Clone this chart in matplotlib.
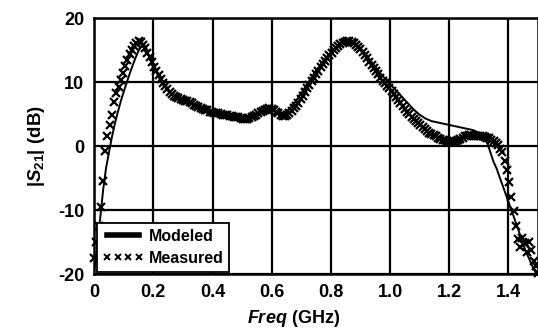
import numpy as np
import matplotlib
matplotlib.use("Agg")
import matplotlib.pyplot as plt

plt.rcParams["font.family"] = ["Liberation Sans", "DejaVu Sans"]
plt.rcParams["font.weight"] = "bold"
plt.rcParams["axes.unicode_minus"] = False
plt.rcParams["mathtext.fontset"] = "custom"
plt.rcParams["mathtext.rm"] = "Liberation Sans:bold"
plt.rcParams["mathtext.it"] = "Liberation Sans:italic:bold"

# measured |S21| (dB), VNA sweep 0..1.5 GHz, 201 points
meas_freq = np.linspace(0.0, 1.5, 201)
meas_db = [
    -17.5, -15.0, -12.5, -9.5, -5.4, -0.7, 1.6, 3.3, 4.8, 6.9,
    8.3, 9.3, 10.3, 11.4, 12.5, 13.5, 14.4, 15.0, 15.6, 16.1,
    16.4, 16.2, 15.8, 15.3, 14.6, 13.9, 13.1, 12.4, 11.7, 11.1,
    10.5, 9.9, 9.4, 8.9, 8.5, 8.2, 7.9, 7.7, 7.5, 7.3,
    7.2, 7.1, 7.0, 6.9, 6.7, 6.4, 6.2, 6.1, 6.0, 5.8,
    5.7, 5.6, 5.4, 5.3, 5.2, 5.2, 5.1, 5.0, 4.9, 4.9,
    4.8, 4.7, 4.7, 4.6, 4.5, 4.5, 4.4, 4.3, 4.3, 4.3,
    4.4, 4.5, 4.7, 4.9, 5.1, 5.3, 5.5, 5.6, 5.8, 5.9,
    5.8, 5.6, 5.4, 5.1, 4.8, 4.7, 4.7, 4.8, 5.1, 5.5,
    5.9, 6.3, 6.8, 7.3, 7.8, 8.4, 9.0, 9.6, 10.1, 10.7,
    11.3, 11.8, 12.3, 12.8, 13.3, 13.8, 14.2, 14.6, 15.0, 15.3,
    15.6, 15.9, 16.1, 16.3, 16.4, 16.4, 16.3, 16.1, 15.8, 15.5,
    15.1, 14.7, 14.2, 13.7, 13.2, 12.7, 12.2, 11.7, 11.2, 10.7,
    10.2, 9.8, 9.4, 9.0, 8.6, 8.1, 7.7, 7.2, 6.8, 6.3,
    5.8, 5.4, 5.0, 4.6, 4.2, 3.9, 3.6, 3.3, 3.0, 2.7,
    2.4, 2.1, 1.9, 1.7, 1.5, 1.3, 1.1, 1.0, 0.9, 0.8,
    0.7, 0.7, 0.7, 0.8, 0.9, 1.1, 1.3, 1.5, 1.6, 1.7,
    1.7, 1.6, 1.6, 1.6, 1.5, 1.5, 1.4, 1.3, 1.2, 1.0,
    0.8, 0.5, 0.1, -0.5, -1.0, -2.3, -3.7, -5.6, -7.9, -10.2,
    -12.5, -14.6, -15.8, -14.3, -15.2, -16.6, -15.0, -16.2, -17.9, -18.8,
    -19.8,
]

# modeled |S21| (dB), 0..1.5 GHz in 10 MHz steps
model_freq = np.linspace(0.0, 1.5, 151)
model_db = [
    -19.5, -16.0, -11.5, -7.0, -3.5, -1.0, 1.4, 3.5, 5.3, 7.0,
    8.5, 9.9, 11.3, 12.6, 13.8, 14.9, 15.6, 15.4, 14.6, 13.6,
    12.6, 11.6, 10.7, 9.9, 9.2, 8.6, 8.2, 7.8, 7.5, 7.3,
    7.1, 7.0, 6.8, 6.6, 6.4, 6.2, 6.0, 5.8, 5.6, 5.5,
    5.3, 5.2, 5.1, 5.0, 4.9, 4.8, 4.7, 4.6, 4.6, 4.5,
    4.5, 4.5, 4.5, 4.6, 4.8, 5.0, 5.3, 5.5, 5.7, 5.8,
    5.8, 5.6, 5.4, 5.2, 5.2, 5.4, 5.8, 6.3, 6.9, 7.6,
    8.3, 9.0, 9.7, 10.4, 11.1, 11.8, 12.4, 13.0, 13.6, 14.1,
    14.6, 15.0, 15.4, 15.8, 16.1, 16.3, 16.3, 16.2, 16.0, 15.7,
    15.3, 14.8, 14.2, 13.6, 13.0, 12.4, 11.8, 11.2, 10.7, 10.2,
    9.7, 9.2, 8.7, 8.2, 7.7, 7.2, 6.7, 6.2, 5.7, 5.3,
    4.9, 4.6, 4.3, 4.1, 3.9, 3.8, 3.7, 3.6, 3.5, 3.4,
    3.3, 3.2, 3.1, 3.0, 2.9, 2.8, 2.7, 2.6, 2.5, 2.3,
    2.1, 1.9, 1.4, 0.3, -1.1, -2.5, -3.5, -4.8, -6.1, -7.4,
    -8.7, -10.0, -11.3, -12.6, -14.0, -15.4, -16.6, -17.6, -18.7, -19.6,
    -20.5,
]

x_ticks = [0, 0.2, 0.4, 0.6, 0.8, 1.0, 1.2, 1.4]
x_labels = ["0", "0.2", "0.4", "0.6", "0.8", "1.0", "1.2", "1.4"]
y_ticks = [-20, -10, 0, 10, 20]

fig = plt.figure(figsize=(5.38, 3.35), dpi=100)
ax = fig.add_axes([0.175, 0.182, 0.825, 0.764])

ax.plot(model_freq, model_db, color="black", lw=1.4, label="Modeled", zorder=3)
ax.plot(meas_freq, meas_db, ls="none", marker="x", ms=6.2, mew=1.6, color="black",
        label="Measured", zorder=4, clip_on=False)

ax.set_xlim(0, 1.5)
ax.set_ylim(-20, 20)
ax.set_xticks(x_ticks)
ax.set_xticklabels(x_labels)
ax.set_yticks(y_ticks)
ax.grid(True, color="black", lw=1.6)
ax.set_axisbelow(True)
ax.tick_params(length=0, labelsize=13, pad=7)
for s in ax.spines.values():
    s.set_linewidth(1.8)
for t in ax.get_xticklabels() + ax.get_yticklabels():
    t.set_fontweight("bold")

ax.set_xlabel(r"$Freq$ (GHz)", fontsize=13, fontweight="bold", labelpad=5, x=0.45)
ax.set_ylabel(r"|$S_{\mathit{21}}$| (dB)", fontsize=13.5, fontweight="bold", labelpad=8)

h_model, = ax.plot([], [], color="black", lw=4)
h_meas, = ax.plot([], [], ls="none", marker="x", ms=5, mew=1.4, color="black")
leg = ax.legend([h_model, h_meas], ["Modeled", "Measured"], loc="lower left",
                numpoints=4, handlelength=2.6, handletextpad=0.3, borderpad=0.35,
                labelspacing=0.45, borderaxespad=0.15, fancybox=False,
                prop=dict(size=11.5, weight="bold"))
leg.get_frame().set_edgecolor("black")
leg.get_frame().set_linewidth(1.3)
leg.get_frame().set_alpha(1)
leg.set_zorder(5)

fig.savefig("out.png", dpi=100)
